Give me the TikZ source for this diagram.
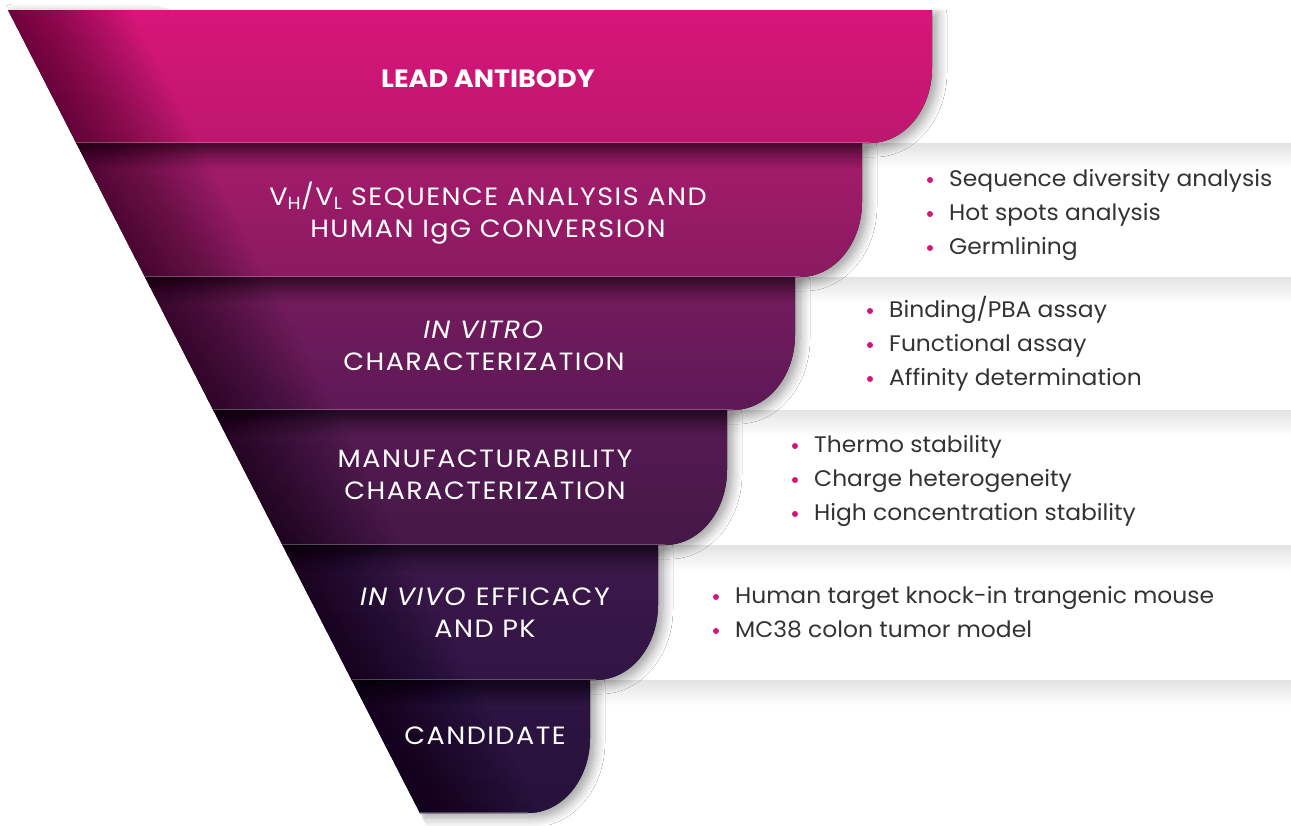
\documentclass[tikz,border=0pt]{standalone}
\usepackage{fontspec}
\setmainfont{Poppins}
\newfontfamily\titlefont[FakeStretch=1.08, LetterSpace=6]{Poppins}
\newfontfamily\itemfont[FakeStretch=1.04]{Poppins}
\usetikzlibrary{shadows.blur}

% band colours, top and bottom of each stage
\definecolor{bandAt}{HTML}{D8157A}\definecolor{bandAb}{HTML}{BD176E}
\definecolor{bandBt}{HTML}{A61B6C}\definecolor{bandBb}{HTML}{8A1A62}
\definecolor{bandCt}{HTML}{761B5E}\definecolor{bandCb}{HTML}{5E1956}
\definecolor{bandDt}{HTML}{561A53}\definecolor{bandDb}{HTML}{461849}
\definecolor{bandEt}{HTML}{3D184A}\definecolor{bandEb}{HTML}{321545}
\definecolor{bandFt}{HTML}{2E1443}\definecolor{bandFb}{HTML}{27123C}
\definecolor{dotpink}{HTML}{D6157A}
\definecolor{itemgray}{HTML}{333333}

\tikzset{
  bandtitle/.style={text=white, align=center, inner sep=0pt,
      font=\titlefont\fontsize{25}{32}\selectfont},
  itemtext/.style={text=itemgray, anchor=base west, inner sep=0pt,
      font=\itemfont\fontsize{22.5}{26}\selectfont},
  itemdot/.style={circle, fill=dotpink, inner sep=0pt, minimum size=6pt},
  bandshadow/.style={blur shadow={shadow xshift=5pt, shadow yshift=-4pt,
      shadow blur radius=10pt, shadow blur steps=10, shadow opacity=40}},
}

% one funnel stage: #1 top y, #2 bottom y, #3 right x, #4 top colour, #5 bottom colour
\newcommand\funnelband[5]{%
  \fill[bandshadow, top color=#4, bottom color=#5]
    ({8+0.513*(#1-10)},-#1) -- (#3,-#1) -- (#3,{-(#2-75)})
    arc[start angle=0, end angle=-90, x radius=62pt, y radius=75pt]
    -- ({8+0.513*(#2-10)},-#2) -- cycle;
  \begin{scope}
    \clip ({8+0.513*(#1-10)},-#1) -- (#3,-#1) -- (#3,{-(#2-75)})
      arc[start angle=0, end angle=-90, x radius=62pt, y radius=75pt]
      -- ({8+0.513*(#2-10)},-#2) -- cycle;
    % darker rim along the slanted left side
    \foreach \w in {6,12,...,120}
      \fill[black, opacity=0.028]
        ({8+0.513*(#1-10)-10},-#1) -- ({8+0.513*(#1-10)+\w},-#1)
        -- ({8+0.513*(#2-10)+\w},-#2) -- ({8+0.513*(#2-10)-10},-#2) -- cycle;
    % shade under the stage above
    \ifnum#1>20
      \foreach \h in {2,4,...,26}
        \fill[black, opacity=0.035] (0,-#1) rectangle (#3,{-(#1+\h)});
    \fi
  \end{scope}
  \draw[white, opacity=.25, line width=.8pt]
    ({8+0.513*(#2-10)},{-#2+.4}) -- ({#3-62},{-#2+.4});
}

% one bullet line: #1 name, #2 dot x, #3 centre y, #4 text
\newcommand\itemline[4]{%
  \node[itemdot] (#1dot) at (#2,{-(#3+2)}) {};
  \node[itemtext] (#1) at ({#2+19},{-(#3+8)}) {#4};
}

\begin{document}
\begin{tikzpicture}[x=1pt, y=1pt]
  \useasboundingbox (0,0) rectangle (1291,-825);
  \fill[white] (0,0) rectangle (1291,-825);

  % soft grey edges of the detail panels
  \foreach \yb/\xs in {143/840, 277/770, 410/700, 545/630, 680/560}
    \shade[top color=black!11, bottom color=white] (\xs,-\yb) rectangle (1291,{-(\yb+26)});

  % funnel stages, lowest first so each casts its shade on the next
  \begin{scope}
    \clip (2.87,0) -- (140,0) -- (170,-9.5) -- (1291,-9.5) -- (1291,-830)
      -- (428.7,-830) -- cycle;
    \funnelband{680}{813}{590}{bandFt}{bandFb}
    \funnelband{545}{680}{658}{bandEt}{bandEb}
    \funnelband{410}{545}{727}{bandDt}{bandDb}
    \funnelband{277}{410}{795}{bandCt}{bandCb}
    \funnelband{143}{277}{862}{bandBt}{bandBb}
    \funnelband{10}{143}{932}{bandAt}{bandAb}
  \end{scope}

  % stage titles
  \node[bandtitle] (lead) at (488,-79) {\addfontfeature{LetterSpace=0}\textbf{LEAD ANTIBODY}};
  \node[bandtitle] (seq) at (488,-213)
    {V\textsubscript{H}/V\textsubscript{L} SEQUENCE ANALYSIS AND\\HUMAN IgG CONVERSION};
  \node[bandtitle] (vitro) at (484,-346) {\textit{IN VITRO}\\CHARACTERIZATION};
  \node[bandtitle] (manuf) at (485,-475) {MANUFACTURABILITY\\CHARACTERIZATION};
  \node[bandtitle] (vivo) at (485,-613) {\textit{IN VIVO} EFFICACY\\AND PK};
  \node[bandtitle] (cand) at (485,-736) {CANDIDATE};

  % stage details
  \itemline{seqA}{930}{178}{Sequence diversity analysis}
  \itemline{seqB}{930}{212}{Hot spots analysis}
  \itemline{seqC}{930}{246}{Germlining}
  \itemline{vitA}{870}{309}{Binding/PBA assay}
  \itemline{vitB}{870}{343}{Functional assay}
  \itemline{vitC}{870}{377}{Affinity determination}
  \itemline{manA}{795}{444}{Thermo stability}
  \itemline{manB}{795}{478}{Charge heterogeneity}
  \itemline{manC}{795}{512}{High concentration stability}
  \itemline{vivA}{716}{595}{Human target knock-in trangenic mouse}
  \itemline{vivB}{716}{629}{MC38 colon tumor model}
\end{tikzpicture}
\end{document}
